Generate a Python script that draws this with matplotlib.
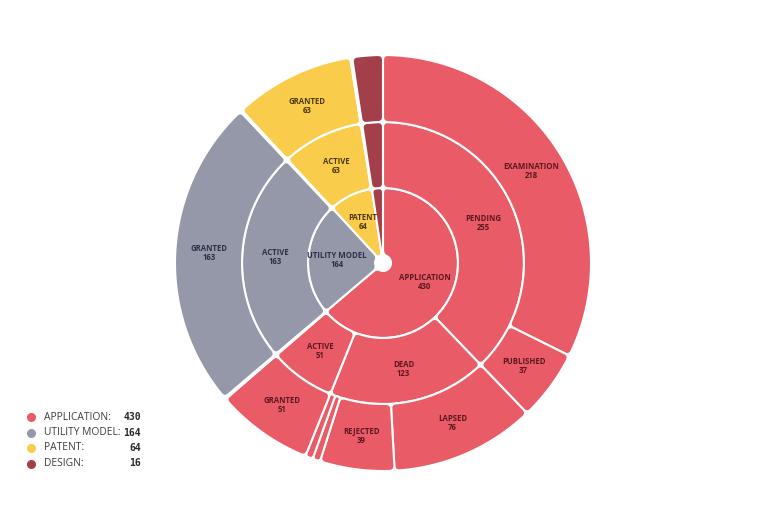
import numpy as np
import matplotlib.pyplot as plt
from matplotlib.path import Path
from matplotlib.patches import PathPatch

# ---- data ----
inner_labels = ["APPLICATION", "UTILITY MODEL", "PATENT", "DESIGN"]
inner_values = [430, 164, 64, 16]

mid_labels = ["PENDING", "DEAD", "ACTIVE", "", "ACTIVE", "", "ACTIVE", "", "ACTIVE"]
mid_values = [255, 123, 51, 1, 163, 1, 63, 1, 16]
mid_parent = [0, 0, 0, 0, 1, 1, 2, 2, 3]

outer_labels = ["EXAMINATION", "PUBLISHED", "LAPSED", "REJECTED", "", "",
                "GRANTED", "", "GRANTED", "", "GRANTED", "", "GRANTED"]
outer_values = [218, 37, 76, 39, 4, 4, 51, 1, 163, 1, 63, 1, 16]
outer_parent = [0, 0, 1, 1, 1, 1, 2, 3, 4, 5, 6, 7, 8]

fill_colors = ["#E95B66", "#9598A8", "#F9CD4B", "#A23F4B"]
text_colors = ["#5A1820", "#2B3046", "#4A3806", "#3A1015"]

# ---- style constants ----
W, H = 768, 527
CX, CY = 383, 263
RADII = [8, 75, 141, 208]
CORNER = 5
MIN_LABEL_DEG = 12


def polar(r, a):
    return (r * np.cos(a), r * np.sin(a))


def sector_path(r0, r1, a0, a1, c):
    half = (a1 - a0) / 2
    cr = min(c, (r1 - r0) / 3)
    da1 = min(cr / r1, half * 0.8)
    da0 = min(cr / r0, half * 0.8)
    cr1 = min(cr, da1 * r1)
    cr0 = min(cr, da0 * r0)
    verts, codes = [], []

    def add(p, code):
        verts.append(p)
        codes.append(code)

    add(polar(r0 + cr0, a0), Path.MOVETO)
    add(polar(r1 - cr1, a0), Path.LINETO)
    add(polar(r1, a0), Path.CURVE3)
    add(polar(r1, a0 + da1), Path.CURVE3)
    for a in np.linspace(a0 + da1, a1 - da1, 60)[1:]:
        add(polar(r1, a), Path.LINETO)
    add(polar(r1, a1), Path.CURVE3)
    add(polar(r1 - cr1, a1), Path.CURVE3)
    add(polar(r0 + cr0, a1), Path.LINETO)
    add(polar(r0, a1), Path.CURVE3)
    add(polar(r0, a1 - da0), Path.CURVE3)
    for a in np.linspace(a1 - da0, a0 + da0, 30)[1:]:
        add(polar(r0, a), Path.LINETO)
    add(polar(r0, a0), Path.CURVE3)
    add(polar(r0 + cr0, a0), Path.CURVE3)
    add((0, 0), Path.CLOSEPOLY)
    return Path(verts, codes)


def layout(values, parents, parent_starts):
    # start offsets (in value units, clockwise from top) for each child
    starts = []
    used = {}
    for v, p in zip(values, parents):
        s = parent_starts[p] + used.get(p, 0)
        used[p] = used.get(p, 0) + v
        starts.append(s)
    return starts


def draw_ring(ax, labels, values, starts, tops, ring, total):
    r0, r1 = RADII[ring], RADII[ring + 1]
    for lab, v, s, top in zip(labels, values, starts, tops):
        a_hi = np.pi / 2 - 2 * np.pi * s / total
        a_lo = np.pi / 2 - 2 * np.pi * (s + v) / total
        patch = PathPatch(sector_path(r0, r1, a_lo, a_hi, CORNER),
                          facecolor=fill_colors[top], edgecolor="white",
                          linewidth=1.5, joinstyle="round")
        ax.add_patch(patch)
        if lab and np.degrees(a_hi - a_lo) > MIN_LABEL_DEG:
            am = (a_hi + a_lo) / 2
            rm = (r0 + r1) / 2 if ring > 0 else 46
            x, y = polar(rm, am)
            ax.text(x, y, f"{lab}\n{v}", ha="center", va="center",
                    fontsize=5.6, fontweight="bold", family="Open Sans",
                    color=text_colors[top], linespacing=1.0)


fig = plt.figure(figsize=(W / 100, H / 100), dpi=100)
ax = fig.add_axes([0, 0, 1, 1])
ax.set_xlim(-CX, W - CX)
ax.set_ylim(-(H - CY), CY)
ax.set_aspect("equal")
ax.axis("off")

total = sum(inner_values)
inner_starts = list(np.cumsum([0] + inner_values[:-1]))
mid_starts = layout(mid_values, mid_parent, inner_starts)
outer_starts = layout(outer_values, outer_parent, mid_starts)

mid_top = mid_parent
outer_top = [mid_parent[p] for p in outer_parent]

draw_ring(ax, inner_labels, inner_values, inner_starts, range(4), 0, total)
draw_ring(ax, mid_labels, mid_values, mid_starts, mid_top, 1, total)
draw_ring(ax, outer_labels, outer_values, outer_starts, outer_top, 2, total)

# legend
for i, (lab, v) in enumerate(zip(inner_labels, inner_values)):
    y = 1 - (417 + 15.5 * i) / H
    ax.plot([31 / W], [y], "o", ms=5.5, color=fill_colors[i],
            transform=fig.transFigure, clip_on=False)
    fig.text(44 / W, y, lab + ":", ha="left", va="center", fontsize=7.4,
             family="Open Sans", color="#3C3C3C")
    fig.text(141 / W, y, str(v), ha="right", va="center", fontsize=7,
             family="DejaVu Sans Mono", fontweight="bold", color="#2A2A2A")

fig.savefig("out.png", dpi=100, facecolor="white")
